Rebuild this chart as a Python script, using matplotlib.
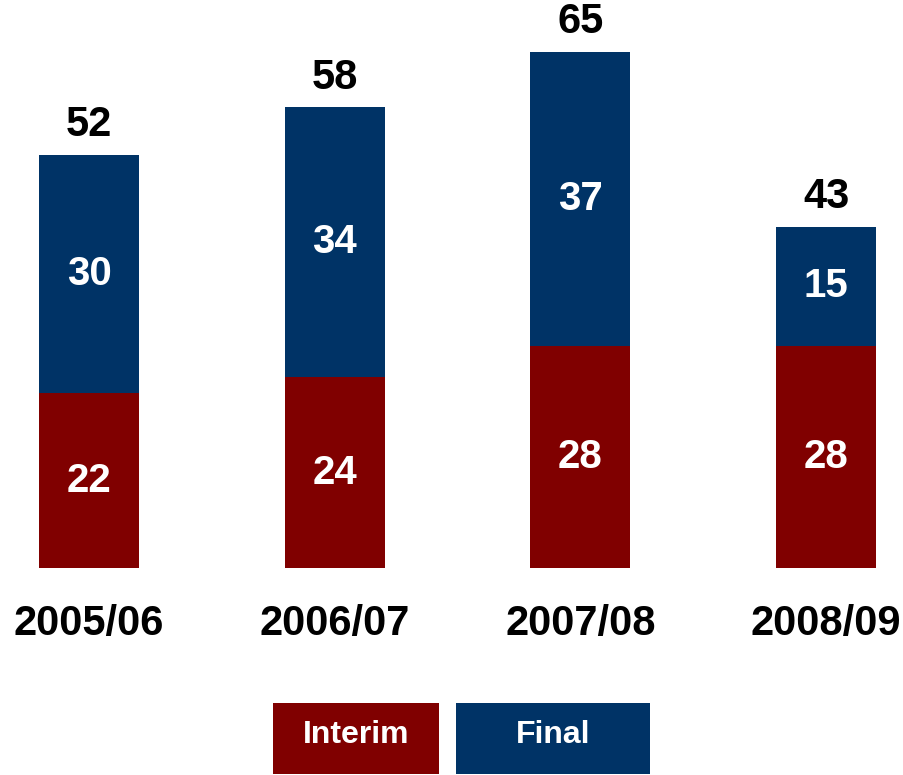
import matplotlib
matplotlib.use("Agg")
import matplotlib.pyplot as plt
from matplotlib.patches import Rectangle

plt.rcParams["font.family"] = ["Liberation Sans", "DejaVu Sans"]

years = ["2005/06", "2006/07", "2007/08", "2008/09"]
interim = [22, 24, 28, 28]
final = [30, 34, 37, 15]
totals = [52, 58, 65, 43]

RED = "#800000"
BLUE = "#003366"

W, H = 904, 775
fig = plt.figure(figsize=(W / 100, H / 100), dpi=100)
bottom_px = 568
ax = fig.add_axes([0, (H - bottom_px) / H, 1, bottom_px / H])

step = 245.7
ax.set_xlim(-89 / step, (W - 89) / step)
ax.set_ylim(0, bottom_px / 7.94)

x = list(range(len(years)))
bw = 100 / step
ax.bar(x, interim, width=bw, color=RED)
ax.bar(x, final, width=bw, bottom=interim, color=BLUE)

for i in x:
    ax.text(i, interim[i] / 2, str(interim[i]), ha="center", va="center",
            color="white", fontsize=29, fontweight="bold")
    ax.text(i, interim[i] + final[i] / 2, str(final[i]), ha="center", va="center",
            color="white", fontsize=29, fontweight="bold")
    ax.annotate(str(totals[i]), (i, totals[i]), xytext=(0, 7), textcoords="offset points",
                ha="center", va="bottom", fontsize=30, fontweight="bold", color="black")

ax.set_xticks(x)
ax.set_xticklabels(years, fontsize=30, fontweight="bold")
ax.tick_params(axis="x", length=0, pad=26)
ax.set_yticks([])
for s in ax.spines.values():
    s.set_visible(False)

# legend boxes
for x0, x1, label, col in [(273, 439, "Interim", RED), (456, 650, "Final", BLUE)]:
    fig.add_artist(Rectangle((x0 / W, 1 - 774 / H), (x1 - x0) / W, 71 / H,
                             transform=fig.transFigure, color=col, lw=0))
    fig.text((x0 + x1) / 2 / W, 1 - 735 / H, label, ha="center", va="center",
             color="white", fontsize=23, fontweight="bold")

fig.savefig("out.png", dpi=100)
